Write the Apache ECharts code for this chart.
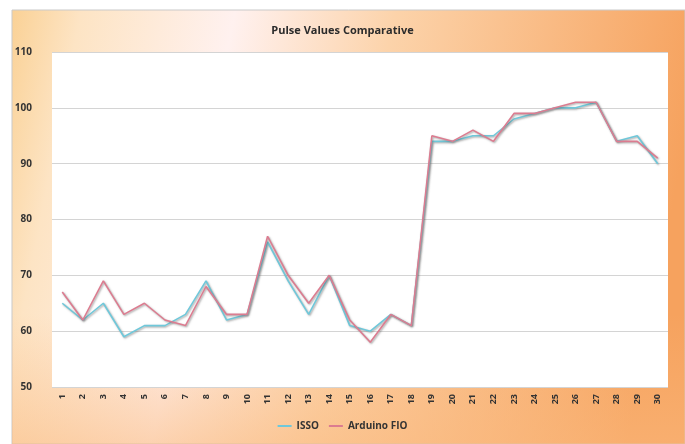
<!DOCTYPE html>
<html>
<head>
<meta charset="utf-8">
<script src="https://cdn.jsdelivr.net/npm/echarts@6/dist/echarts.min.js"></script>
<style>
  html, body { margin: 0; padding: 0; background: #fff; }
  #chart { width: 685px; height: 444px; }
</style>
</head>
<body>
<div id="chart"></div>
<script>
// 读图得到的数据
const days = Array.from({ length: 30 }, (_, i) => String(i + 1));
const issoValues = [65, 62, 65, 59, 61, 61, 63, 69, 62, 63, 76, 69, 63, 70, 61, 60, 63, 61, 94, 94, 95, 95, 98, 99, 100, 100, 101, 94, 95, 90];
const arduinoValues = [67, 62, 69, 63, 65, 62, 61, 68, 63, 63, 77, 70, 65, 70, 62, 58, 63, 61, 95, 94, 96, 94, 99, 99, 100, 101, 101, 94, 94, 91];
const yTicks = [50, 110, 10];

const chart = echarts.init(document.getElementById('chart'));

const lineSeries = (name, data, color) => ({
  name,
  type: 'line',
  data,
  symbol: 'none',
  smooth: false,
  lineStyle: {
    color,
    width: 1.6,
    shadowColor: 'rgba(90,90,90,0.55)',
    shadowBlur: 2,
    shadowOffsetX: 1,
    shadowOffsetY: 1
  },
  itemStyle: { color }
});

chart.setOption({
  animation: false,
  graphic: [{
    type: 'rect',
    z: -10,
    shape: { x: 12, y: 10, width: 673, height: 434 },
    style: {
      fill: new echarts.graphic.LinearGradient(0, 0, 1, 0.3, [
        { offset: 0, color: '#fad195' },
        { offset: 0.1, color: '#fde4c4' },
        { offset: 0.32, color: '#fff1ef' },
        { offset: 0.55, color: '#fcd3aa' },
        { offset: 1, color: '#f6a25e' }
      ]),
      stroke: '#c9c9c9',
      lineWidth: 1
    }
  }, {
    type: 'rect',
    z: -9,
    silent: true,
    shape: { x: 12, y: 10, width: 673, height: 434 },
    style: {
      fill: new echarts.graphic.LinearGradient(0, 0, 0, 1, [
        { offset: 0, color: 'rgba(250,185,125,0)' },
        { offset: 0.7, color: 'rgba(250,185,125,0)' },
        { offset: 1, color: 'rgba(250,185,125,0.55)' }
      ])
    }
  }],
  title: {
    text: 'Pulse Values Comparative',
    left: 'center',
    top: 20,
    textStyle: {
      fontFamily: 'Open Sans',
      fontSize: 11,
      fontWeight: 'bold',
      color: '#2b2b2b'
    }
  },
  legend: {
    bottom: 8,
    left: 'center',
    itemWidth: 14,
    itemHeight: 2,
    itemGap: 10,
    icon: 'rect',
    textStyle: {
      fontFamily: 'Open Sans',
      fontSize: 10,
      fontWeight: 'bold',
      color: '#333'
    },
    data: ['ISSO', 'Arduino FIO']
  },
  grid: {
    left: 52,
    right: 17,
    top: 52,
    bottom: 57,
    show: true,
    backgroundColor: '#ffffff',
    borderWidth: 0
  },
  xAxis: {
    type: 'category',
    data: days,
    boundaryGap: true,
    axisLine: { show: false },
    axisTick: { show: false },
    axisLabel: {
      rotate: 90,
      interval: 0,
      margin: 7,
      fontFamily: 'Open Sans',
      fontSize: 9,
      fontWeight: 'bold',
      color: '#333'
    }
  },
  yAxis: {
    type: 'value',
    min: yTicks[0],
    max: yTicks[1],
    interval: yTicks[2],
    axisLine: { show: false },
    axisTick: { show: false },
    axisLabel: {
      margin: 20,
      fontFamily: 'Open Sans',
      fontSize: 10,
      fontWeight: 'bold',
      color: '#333'
    },
    splitLine: { lineStyle: { color: '#d4d4d4', width: 1 } }
  },
  series: [
    lineSeries('ISSO', issoValues, '#6fc8da'),
    lineSeries('Arduino FIO', arduinoValues, '#dc7c90')
  ]
});
</script>
</body>
</html>
